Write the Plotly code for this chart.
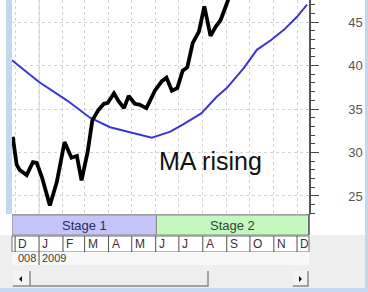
import plotly.graph_objects as go

# ---------------- data ----------------
price_dates = ["2008-11-28", "2008-12-03", "2008-12-07", "2008-12-16", "2008-12-24", "2008-12-29",
               "2009-01-05", "2009-01-15", "2009-01-24", "2009-02-03", "2009-02-12", "2009-02-19",
               "2009-02-25", "2009-03-05", "2009-03-11", "2009-03-19", "2009-03-26", "2009-03-31",
               "2009-04-08", "2009-04-14", "2009-04-21", "2009-04-27", "2009-05-05", "2009-05-11",
               "2009-05-20", "2009-05-31", "2009-06-09", "2009-06-15", "2009-06-22", "2009-06-29",
               "2009-07-06", "2009-07-12", "2009-07-19", "2009-07-27", "2009-08-03", "2009-08-11",
               "2009-08-18", "2009-08-24", "2009-09-01", "2009-09-06"]
price_values = [31.8, 28.6, 28.0, 27.4, 28.9, 28.8,
                27.1, 23.9, 26.6, 31.2, 29.4, 29.6,
                26.8, 30.1, 33.7, 34.9, 35.6, 35.7,
                36.8, 35.9, 35.1, 36.5, 35.6, 35.5,
                35.1, 37.1, 38.2, 38.6, 37.1, 37.4,
                39.4, 39.8, 42.6, 43.9, 46.8, 43.4,
                44.5, 45.2, 47.1, 48.4]

ma_dates = ["2008-11-27", "2009-01-01", "2009-02-06", "2009-03-08", "2009-04-03", "2009-05-03",
            "2009-05-27", "2009-06-20", "2009-07-06", "2009-07-30", "2009-08-19", "2009-09-01",
            "2009-09-23", "2009-10-10", "2009-10-28", "2009-11-14", "2009-12-01", "2009-12-14"]
ma_values = [40.6, 38.1, 36.0, 34.0, 32.9, 32.2,
             31.7, 32.4, 33.2, 34.5, 36.4, 37.4,
             39.7, 41.8, 42.9, 44.1, 45.6, 47.0]

month_starts = ["2008-12-01", "2009-01-01", "2009-02-01", "2009-03-01", "2009-04-01", "2009-05-01",
                "2009-06-01", "2009-07-01", "2009-08-01", "2009-09-01", "2009-10-01", "2009-11-01",
                "2009-12-01"]
month_labels = ["D", "J", "F", "M", "A", "M", "J", "J", "A", "S", "O", "N", "D"]

year_start = "2009-01-01"
year_labels = ["008", "2009"]

stage_names = ["Stage 1", "Stage 2"]
stage_starts = ["2008-11-27", "2009-06-02"]
stage_ends = ["2009-06-02", "2009-12-16 12:00"]

y_ticks = [25, 30, 35, 40, 45]
annotation_text = "MA rising"
annotation_pos = ("2009-08-11", 29.0)

# ---------------- layout helpers ----------------
W, H = 368, 292
L, R = 12, 59
PW = W - L - R


def px(x):
    return (x - L) / PW


def py(y):
    return (H - y) / H


x_range = ["2008-11-27", "2009-12-16 12:00"]
plot_bottom = 214

fig = go.Figure()
fig.add_trace(go.Scatter(x=ma_dates, y=ma_values, mode="lines",
                         line=dict(color="#3a36d6", width=2), hoverinfo="skip"))
fig.add_trace(go.Scatter(x=price_dates, y=price_values, mode="lines",
                         line=dict(color="#000000", width=3.8), hoverinfo="skip"))

shapes = []
# left window strip
shapes.append(dict(type="rect", xref="paper", yref="paper", x0=px(6), x1=px(12),
                   y0=py(plot_bottom), y1=1, fillcolor="#c3d7ee", line_width=0, layer="below"))
# bottom gray area
shapes.append(dict(type="rect", xref="paper", yref="paper", x0=px(0), x1=px(368),
                   y0=0, y1=py(235), fillcolor="#eeeeee", line_width=0, layer="below"))
# month row
shapes.append(dict(type="rect", xref="paper", yref="paper", x0=0, x1=1,
                   y0=py(252), y1=py(236), fillcolor="#ffffff",
                   line=dict(color="#707070", width=1), layer="below"))
# year row
shapes.append(dict(type="rect", xref="paper", yref="paper", x0=0, x1=1,
                   y0=py(265), y1=py(252), fillcolor="#f8f8f8", line_width=0, layer="below"))
# month separators
for d in month_starts:
    y_low = py(265) if d == year_start else py(252)
    shapes.append(dict(type="line", xref="x", yref="paper", x0=d, x1=d,
                       y0=y_low, y1=py(236), line=dict(color="#505050", width=1)))
# solid year gridline in plot
shapes.append(dict(type="line", xref="x", yref="paper", x0=year_start, x1=year_start,
                   y0=py(plot_bottom), y1=1, line=dict(color="#cfcfcf", width=1), layer="below"))
# stage bars
stage_colors = ["#c4c4f8", "#c4f8c0"]
for s0, s1, c in zip(stage_starts, stage_ends, stage_colors):
    shapes.append(dict(type="rect", xref="x", yref="paper", x0=s0, x1=s1,
                       y0=py(235), y1=py(215), fillcolor=c,
                       line=dict(color="#8a8a8a", width=1)))
# axis line extension through stage row
shapes.append(dict(type="line", xref="paper", yref="paper", x0=1, x1=1,
                   y0=py(235), y1=py(plot_bottom), line=dict(color="#555555", width=1.5)))
# scroll bar: buttons, thumb shadow, arrows
for bx0, bx1 in [(13, 30), (293, 308)]:
    shapes.append(dict(type="rect", xref="paper", yref="paper", x0=px(bx0), x1=px(bx1),
                       y0=py(286), y1=py(271), fillcolor="#f4f4f4", line_width=0))
    shapes.append(dict(type="path", xref="paper", yref="paper",
                       path=f"M {px(bx0)} {py(286)} L {px(bx1)} {py(286)} L {px(bx1)} {py(271)}",
                       line=dict(color="#8a8a8a", width=1.5)))
shapes.append(dict(type="path", xref="paper", yref="paper",
                   path=f"M {px(30)} {py(286)} L {px(208)} {py(286)} L {px(208)} {py(271)}",
                   line=dict(color="#8a8a8a", width=1.5)))
shapes.append(dict(type="path", xref="paper", yref="paper",
                   path=f"M {px(19)} {py(279)} L {px(22)} {py(276)} L {px(22)} {py(282)} Z",
                   fillcolor="#111111", line_width=0))
shapes.append(dict(type="path", xref="paper", yref="paper",
                   path=f"M {px(302)} {py(279)} L {px(299)} {py(276)} L {px(299)} {py(282)} Z",
                   fillcolor="#111111", line_width=0))
# right and bottom window frame
shapes.append(dict(type="rect", xref="paper", yref="paper", x0=px(365), x1=px(369),
                   y0=0, y1=1, fillcolor="#c3d7ee", line_width=0))
shapes.append(dict(type="rect", xref="paper", yref="paper", x0=px(0), x1=px(369),
                   y0=0, y1=py(288), fillcolor="#c3d7ee", line_width=0))

annotations = []
for d, lab in zip(month_starts, month_labels):
    annotations.append(dict(x=d, xref="x", y=py(244), yref="paper", text=lab,
                            showarrow=False, xanchor="left", yanchor="middle", xshift=1,
                            font=dict(family="Liberation Sans, Arial", size=12, color="#3c3040")))
annotations.append(dict(x=year_start, xref="x", y=py(258), yref="paper", text=year_labels[0],
                        showarrow=False, xanchor="right", yanchor="middle", xshift=-1,
                        font=dict(family="Liberation Sans, Arial", size=11, color="#3c3c3c")))
annotations.append(dict(x=year_start, xref="x", y=py(258), yref="paper", text=year_labels[1],
                        showarrow=False, xanchor="left", yanchor="middle", xshift=1,
                        font=dict(family="Liberation Sans, Arial", size=11, color="#3c3c3c")))
stage_text_colors = ["#2c2c5c", "#2c4a2c"]
stage_mids = ["2009-03-01", "2009-09-08"]
for name, mid, c in zip(stage_names, stage_mids, stage_text_colors):
    annotations.append(dict(x=mid, xref="x", y=py(225), yref="paper", text=name,
                            showarrow=False, xanchor="center", yanchor="middle",
                            font=dict(family="Liberation Sans, Arial", size=13, color=c)))
annotations.append(dict(x=annotation_pos[0], y=annotation_pos[1], xref="x", yref="y",
                        text=annotation_text, showarrow=False, xanchor="center", yanchor="middle",
                        font=dict(family="Liberation Sans, Arial", size=25, color="#111111")))

fig.update_layout(
    width=W, height=H,
    margin=dict(l=L, r=R, t=0, b=0, pad=0),
    paper_bgcolor="#ffffff", plot_bgcolor="#ffffff",
    showlegend=False,
    shapes=shapes, annotations=annotations,
    xaxis=dict(type="date", range=x_range, showticklabels=False, ticks="",
               showgrid=True, gridcolor="#d4d4d4", griddash="dot", gridwidth=1,
               tick0="2009-01-01", dtick="M1", zeroline=False, showline=True,
               linecolor="#b0b0b0", mirror=False, fixedrange=True),
    yaxis=dict(domain=[py(plot_bottom), 1], side="right", range=[22.93, 47.53],
               tickvals=y_ticks, ticks="outside", ticklen=8, tickcolor="#444444",
               tickwidth=1, showline=True, linecolor="#555555", linewidth=1.5,
               showgrid=True, gridcolor="#d4d4d4", griddash="dot", zeroline=False,
               minor=dict(dtick=1, ticks="outside", ticklen=4, tickcolor="#444444", showgrid=False),
               tickfont=dict(family="Liberation Sans, Arial", size=13, color="#555555"),
               ticklabelstandoff=27, fixedrange=True),
)

fig.write_html("out.html", config={"displayModeBar": False},
               post_script="document.body.style.margin='0';document.body.style.overflow='hidden';")
